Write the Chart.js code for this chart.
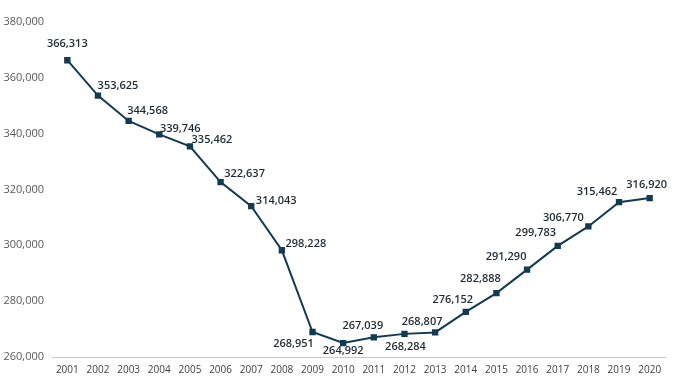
<!DOCTYPE html>
<html>
<head>
<meta charset="utf-8">
<script src="https://cdn.jsdelivr.net/npm/chart.js@4/dist/chart.umd.min.js"></script>
<style>
html,body{margin:0;padding:0;background:#fff;}
#wrap{width:680px;height:380px;position:relative;}
</style>
</head>
<body>
<div id="wrap"><canvas id="c" width="680" height="380"></canvas></div>
<script>
const years = ['2001','2002','2003','2004','2005','2006','2007','2008','2009','2010','2011','2012','2013','2014','2015','2016','2017','2018','2019','2020'];
const values = [366313,353625,344568,339746,335462,322637,314043,298228,268951,264992,267039,268284,268807,276152,282888,291290,299783,306770,315462,316920];
const yTicks = [260000,280000,300000,320000,340000,360000,380000];

// label offsets (px) relative to each point, for placement only
const labelOffsets = [[0,-16],[20,-10],[19,-10],[21,-6],[22,-6],[24,-8],[25,-5],[24,-6],[-19,12],[0,8],[-11,-11],[1,13],[-13,-11],[-13,-12],[-16,-14],[-21,-13],[-22,-13],[-25,-9],[-22,-10],[-3,-13]];

const fmt = v => v.toLocaleString('en-US');

const labelPlugin = {
  id: 'pointLabels',
  afterDatasetsDraw(chart) {
    const ctx = chart.ctx;
    const meta = chart.getDatasetMeta(0);
    ctx.save();
    ctx.font = '600 11px "Open Sans", sans-serif';
    ctx.fillStyle = '#1f2a33';
    ctx.textAlign = 'center';
    ctx.textBaseline = 'middle';
    meta.data.forEach((pt, i) => {
      const off = labelOffsets[i] || [0, -14];
      ctx.fillText(fmt(values[i]), pt.x + off[0], pt.y + off[1]);
    });
    ctx.restore();
  }
};

new Chart(document.getElementById('c'), {
  type: 'line',
  data: {
    labels: years,
    datasets: [{
      data: values,
      borderColor: '#123a52',
      backgroundColor: '#123a52',
      borderWidth: 2,
      pointStyle: 'rect',
      pointRadius: 4.5,
      pointBorderWidth: 0,
      tension: 0
    }]
  },
  options: {
    responsive: false,
    animation: false,
    layout: { padding: { top: 22, right: 15, left: 0, bottom: 0 } },
    plugins: { legend: { display: false }, tooltip: { enabled: false } },
    scales: {
      x: {
        offset: true,
        grid: { display: false, drawTicks: false },
        border: { display: true, color: '#c8c8c8', width: 1 },
        ticks: { color: '#404040', font: { family: '"Open Sans", sans-serif', size: 10 }, padding: 7, maxRotation: 0, autoSkip: false },
        afterFit(s) { s.height = 23; }
      },
      y: {
        min: 260000, max: 380000,
        grid: { display: false, drawTicks: false },
        border: { display: false },
        afterBuildTicks(s) { s.ticks = yTicks.map(v => ({ value: v })); },
        ticks: { color: '#595959', font: { family: '"Open Sans", sans-serif', size: 11 }, padding: 8, callback: v => fmt(v) },
        afterFit(s) { s.width = 52; }
      }
    }
  },
  plugins: [labelPlugin]
});
</script>
</body>
</html>
